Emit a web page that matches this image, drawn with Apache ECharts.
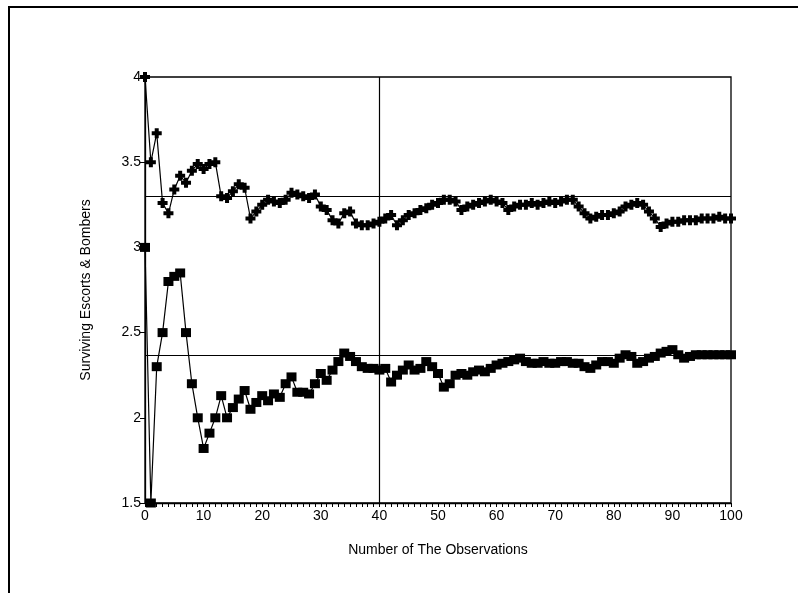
<!DOCTYPE html>
<html>
<head>
<meta charset="utf-8">
<script src="https://cdn.jsdelivr.net/npm/echarts@6/dist/echarts.min.js"></script>
<style>html,body{margin:0;padding:0;background:#fff;}#c{width:798px;height:593px;}</style>
</head>
<body>
<div id="c"></div>
<script>
const observations = Array.from({length: 101}, (_, i) => i);
const escorts = [4.00,3.50,3.67,3.26,3.20,3.34,3.42,3.38,3.45,3.49,3.46,3.49,3.50,3.30,3.29,3.33,3.37,3.35,3.17,3.21,
3.25,3.28,3.27,3.26,3.28,3.32,3.31,3.30,3.29,3.31,3.24,3.22,3.16,3.14,3.20,3.21,3.14,3.13,3.13,3.14,
3.15,3.17,3.19,3.13,3.16,3.19,3.20,3.22,3.23,3.25,3.26,3.28,3.28,3.27,3.22,3.24,3.25,3.26,3.27,3.28,
3.27,3.26,3.22,3.24,3.25,3.25,3.26,3.25,3.26,3.27,3.26,3.27,3.28,3.28,3.24,3.20,3.17,3.18,3.19,3.19,
3.20,3.21,3.24,3.25,3.26,3.25,3.21,3.17,3.12,3.14,3.15,3.15,3.16,3.16,3.16,3.17,3.17,3.17,3.18,3.17,3.17];
const bombers = [3.00,1.50,2.30,2.50,2.80,2.83,2.85,2.50,2.20,2.00,1.82,1.91,2.00,2.13,2.00,2.06,2.11,2.16,2.05,2.09,
2.13,2.10,2.14,2.12,2.20,2.24,2.15,2.15,2.14,2.20,2.26,2.22,2.28,2.33,2.38,2.36,2.33,2.30,2.29,2.29,
2.28,2.29,2.21,2.25,2.28,2.31,2.28,2.29,2.33,2.30,2.26,2.18,2.20,2.25,2.26,2.25,2.27,2.28,2.27,2.29,
2.31,2.32,2.33,2.34,2.35,2.33,2.32,2.32,2.33,2.32,2.32,2.33,2.33,2.32,2.32,2.30,2.29,2.31,2.33,2.33,
2.32,2.35,2.37,2.36,2.32,2.33,2.35,2.36,2.38,2.39,2.40,2.37,2.35,2.36,2.37,2.37,2.37,2.37,2.37,2.37,2.37];
const escortMean = 3.30;
const bomberMean = 2.365;
const markerObs = 40;
const xTicks = [0,10,20,30,40,50,60,70,80,90,100];
const yTicks = [1.5,2,2.5,3,3.5,4];

const font = 'Liberation Sans';
const chart = echarts.init(document.getElementById('c'), null, {renderer: 'canvas'});
const plus = 'path://M3,0 L7,0 L7,3 L10,3 L10,7 L7,7 L7,10 L3,10 L3,7 L0,7 L0,3 L3,3 Z';
chart.setOption({
  animation: false,
  backgroundColor: '#fff',
  grid: {left: 145, right: 67, top: 77, bottom: 90, show: true, borderColor: '#000', borderWidth: 1.3},
  graphic: [{
    type: 'polyline', silent: true,
    shape: {points: [[9, 593], [9, 7], [798, 7]]},
    style: {stroke: '#000', lineWidth: 2, fill: null}
  }],
  xAxis: {
    type: 'value', min: xTicks[0], max: xTicks[xTicks.length - 1], interval: 10,
    name: 'Number of The Observations', nameLocation: 'middle', nameGap: 40,
    nameTextStyle: {fontFamily: font, fontSize: 14, color: '#000'},
    axisLine: {show: true, lineStyle: {color: '#000', width: 1.3}},
    axisTick: {show: true, length: 4, lineStyle: {color: '#000'}},
    minorTick: {show: true, splitNumber: 10, length: 4, lineStyle: {color: '#000'}},
    axisLabel: {fontFamily: font, fontSize: 14, color: '#000', margin: 6},
    splitLine: {show: false}
  },
  yAxis: {
    type: 'value', min: yTicks[0], max: yTicks[yTicks.length - 1], interval: 0.5,
    name: 'Surviving Escorts & Bombers', nameLocation: 'middle', nameGap: 52, nameRotate: 90,
    nameTextStyle: {fontFamily: font, fontSize: 14, color: '#000'},
    axisLine: {show: true, lineStyle: {color: '#000', width: 1.3}},
    axisTick: {show: true, length: 5, lineStyle: {color: '#000'}},
    axisLabel: {fontFamily: font, fontSize: 14, color: '#000', margin: 4},
    splitLine: {show: false}
  },
  series: [
    {
      type: 'line', data: observations.map((x, i) => [x, escorts[i]]),
      symbol: plus, symbolSize: 10, showAllSymbol: true,
      lineStyle: {color: '#000', width: 1.2}, itemStyle: {color: '#000'},
      markLine: {
        silent: true, symbol: 'none', label: {show: false},
        lineStyle: {color: '#000', width: 1.2, type: 'solid'},
        data: [{yAxis: escortMean}, {yAxis: bomberMean}, {xAxis: markerObs}]
      }
    },
    {
      type: 'line', data: observations.map((x, i) => [x, bombers[i]]),
      symbol: 'rect', symbolSize: [10, 9], showAllSymbol: true,
      lineStyle: {color: '#000', width: 1.2}, itemStyle: {color: '#000'}
    }
  ]
});
</script>
</body>
</html>
